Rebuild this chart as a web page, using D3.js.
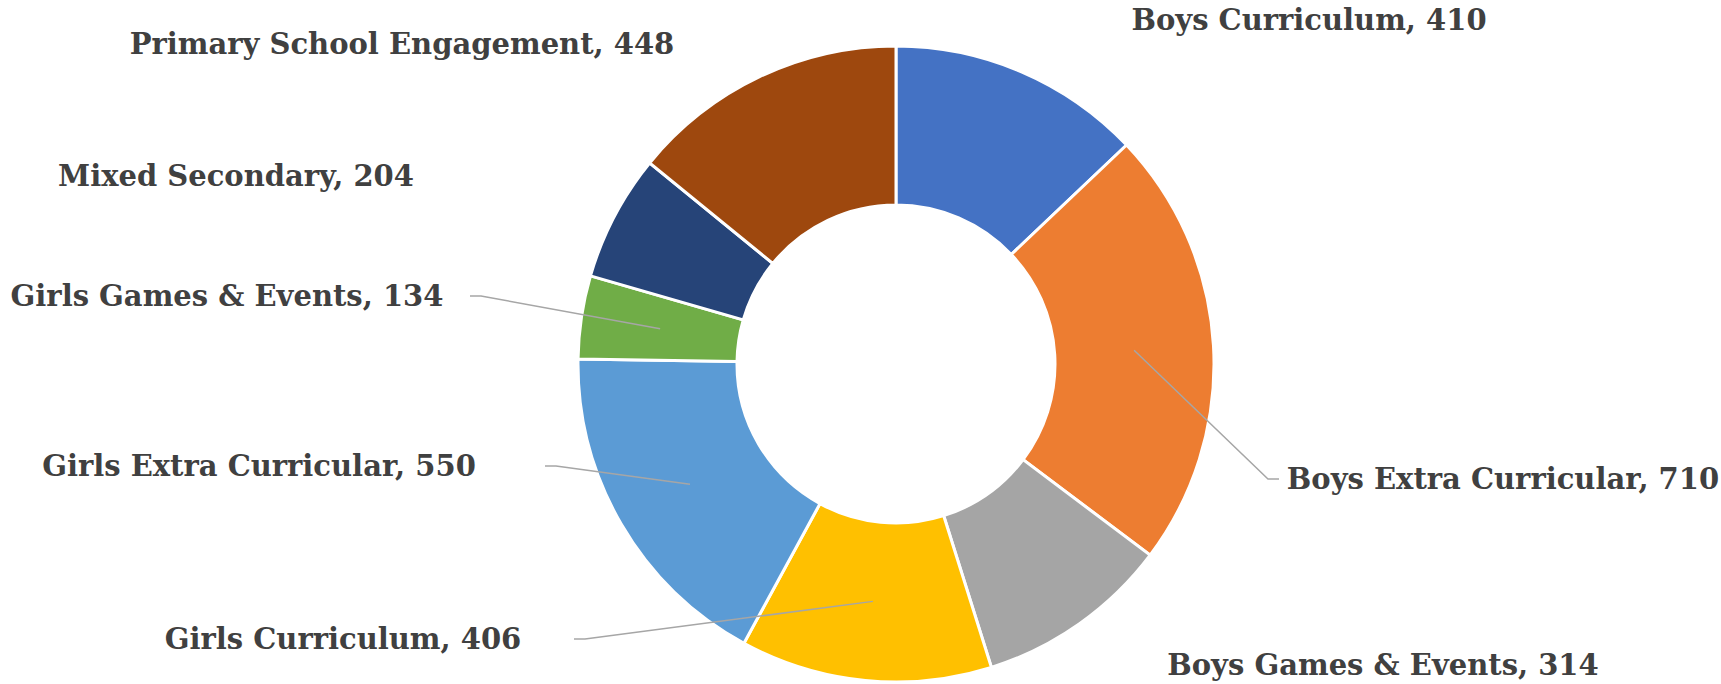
<!DOCTYPE html>
<html>
<head>
<meta charset="utf-8">
<script src="https://cdn.jsdelivr.net/npm/d3@7"></script>
<style>
  body { margin: 0; background: #fff; }
  text { font-family: "DejaVu Serif", serif; font-weight: bold; fill: #404040; }
</style>
</head>
<body>
<div id="chart"></div>
<script>
// Data
var categories = ['Boys Curriculum', 'Boys Extra Curricular', 'Boys Games & Events', 'Girls Curriculum',
  'Girls Extra Curricular', 'Girls Games & Events', 'Mixed Secondary', 'Primary School Engagement'];
var values = [410, 710, 314, 406, 550, 134, 204, 448];
var colors = ['#4472C4', '#ED7D31', '#A5A5A5', '#FFC000', '#5B9BD5', '#70AD47', '#264478', '#9E480E'];

// Label layout: centre of each label, and elbow of the leader line (null = no leader)
var labelPos = [[1309, 20], [1503, 479], [1383, 665], [343, 639], [259, 466], [227, 296], [236, 176], [402, 44]];
var elbows = [null, [1268, 479], null, [585, 639], [556, 466], [481, 296], null, null];

var width = 1721;
var height = 684;
var cx = 896, cy = 364;
var outerR = 318, innerR = 159;

var svg = d3.select('#chart')
  .append('svg')
  .attr('width', width)
  .attr('height', height);

var g = svg.append('g').attr('transform', 'translate(' + cx + ',' + cy + ')');

var pie = d3.pie().sort(null).value(function(d) { return d; });
var arc = d3.arc().innerRadius(innerR).outerRadius(outerR);
var arcs = pie(values);

g.selectAll('path')
  .data(arcs)
  .enter().append('path')
  .attr('d', arc)
  .style('fill', function(d, i) { return colors[i]; })
  .style('stroke', '#fff')
  .style('stroke-width', 3);

// Leader lines
arcs.forEach(function(d, i) {
  if (!elbows[i]) return;
  var c = arc.centroid(d);
  var ex = elbows[i][0] - cx, ey = elbows[i][1] - cy;
  var tail = ex < 0 ? ex - 11 : ex + 11;
  g.append('polyline')
    .attr('points', [[c[0], c[1]], [ex, ey], [tail, ey]].join(' '))
    .style('fill', 'none')
    .style('stroke', '#A6A6A6')
    .style('stroke-width', 1.5);
});

// Labels
svg.selectAll('.label')
  .data(categories)
  .enter().append('text')
  .attr('class', 'label')
  .attr('x', function(d, i) { return labelPos[i][0]; })
  .attr('y', function(d, i) { return labelPos[i][1]; })
  .attr('dy', '.36em')
  .style('text-anchor', 'middle')
  .style('font-size', '29px')
  .text(function(d, i) { return d + ', ' + values[i]; });
</script>
</body>
</html>
